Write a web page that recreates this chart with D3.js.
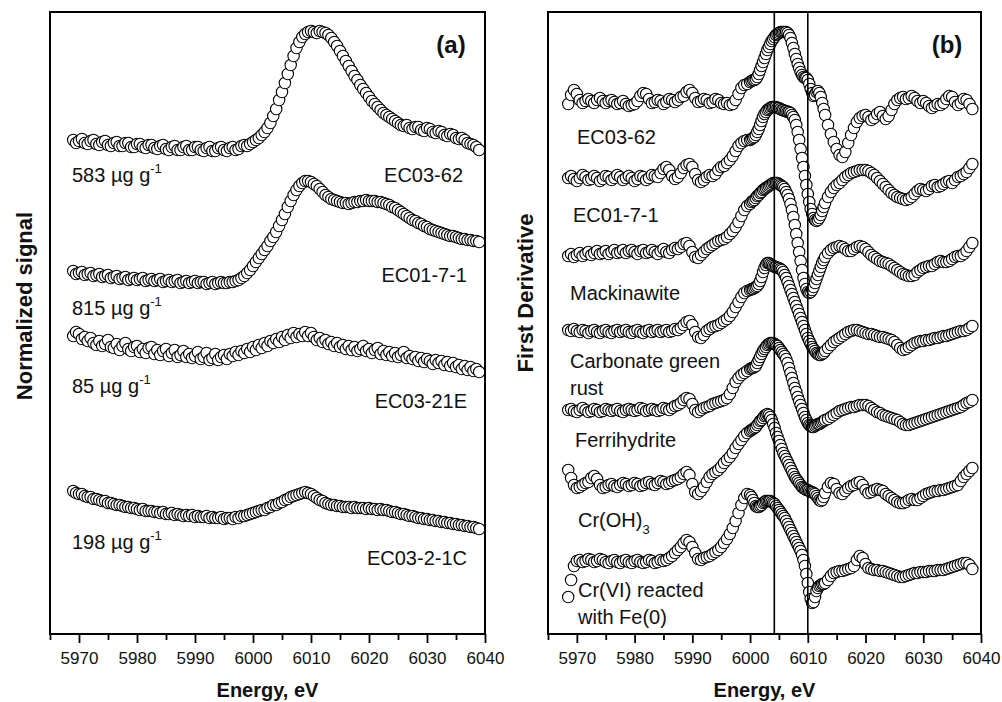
<!DOCTYPE html>
<html>
<head>
<meta charset="utf-8">
<script src="https://cdn.jsdelivr.net/npm/d3@7"></script>
<style>
  body { margin: 0; background: #fff; }
  text { font-family: "Liberation Sans", Arial, sans-serif; fill: #111; }
</style>
</head>
<body>
<script>
// ---- data (a): normalized signal, arbitrary units with offsets ----
const energyA = [
5969,5969.5,5970,5970.5,5971,5971.5,5972,5972.5,5973,5973.5,
5974,5974.5,5975,5975.5,5976,5976.5,5977,5977.5,5978,5978.5,
5979,5979.5,5980,5980.5,5981,5981.5,5982,5982.5,5983,5983.5,
5984,5984.5,5985,5985.5,5986,5986.5,5987,5987.5,5988,5988.5,
5989,5989.5,5990,5990.5,5991,5991.5,5992,5992.5,5993,5993.5,
5994,5994.5,5995,5995.5,5996,5996.5,5997,5997.5,5998,5998.5,
5999,5999.5,6000,6000.5,6001,6001.5,6002,6002.5,6003,6003.5,
6004,6004.5,6005,6005.5,6006,6006.5,6007,6007.5,6008,6008.5,
6009,6009.5,6010,6010.5,6011,6011.5,6012,6012.5,6013,6013.5,
6014,6014.5,6015,6015.5,6016,6016.5,6017,6017.5,6018,6018.5,
6019,6019.5,6020,6020.5,6021,6021.5,6022,6022.5,6023,6023.5,
6024,6024.5,6025,6025.5,6026,6026.5,6027,6027.5,6028,6028.5,
6029,6029.5,6030,6030.5,6031,6031.5,6032,6032.5,6033,6033.5,
6034,6034.5,6035,6035.5,6036,6036.5,6037,6037.5,6038,6038.5,
6039];

const ec0362A = [
4.94,4.91,4.93,4.95,4.91,4.90,4.93,4.94,4.90,4.89,
4.92,4.93,4.89,4.88,4.91,4.92,4.88,4.88,4.91,4.91,
4.87,4.87,4.90,4.90,4.87,4.86,4.89,4.89,4.86,4.85,
4.88,4.89,4.85,4.84,4.87,4.88,4.84,4.84,4.87,4.88,
4.84,4.84,4.87,4.87,4.84,4.83,4.86,4.87,4.83,4.83,
4.86,4.87,4.84,4.83,4.86,4.87,4.84,4.85,4.88,4.89,
4.88,4.90,4.92,4.94,4.96,4.99,5.02,5.06,5.11,5.18,
5.25,5.34,5.42,5.51,5.60,5.69,5.78,5.86,5.92,5.97,
6.00,6.02,6.03,6.02,6.01,6.03,6.02,6.01,5.99,5.96,
5.92,5.88,5.83,5.78,5.73,5.68,5.63,5.58,5.54,5.49,
5.45,5.41,5.37,5.33,5.30,5.27,5.24,5.21,5.19,5.17,
5.15,5.13,5.11,5.09,5.08,5.09,5.06,5.05,5.07,5.07,
5.04,5.03,5.06,5.05,5.02,5.01,5.03,5.02,4.99,4.98,
5.00,4.99,4.96,4.95,4.96,4.94,4.91,4.90,4.89,4.87,
4.84];

const ec0171A = [
3.63,3.60,3.61,3.62,3.59,3.60,3.61,3.58,3.59,3.60,
3.57,3.58,3.59,3.56,3.57,3.58,3.55,3.56,3.57,3.54,
3.55,3.56,3.54,3.55,3.56,3.53,3.54,3.55,3.53,3.54,
3.55,3.52,3.53,3.54,3.52,3.53,3.54,3.51,3.52,3.53,
3.51,3.52,3.53,3.51,3.52,3.52,3.50,3.51,3.52,3.50,
3.51,3.52,3.51,3.51,3.52,3.52,3.53,3.54,3.56,3.58,
3.61,3.64,3.68,3.72,3.76,3.80,3.84,3.88,3.93,3.97,
4.02,4.08,4.14,4.20,4.27,4.33,4.39,4.44,4.48,4.51,
4.53,4.53,4.52,4.50,4.48,4.45,4.42,4.39,4.37,4.35,
4.34,4.33,4.32,4.31,4.31,4.30,4.31,4.32,4.32,4.33,
4.33,4.34,4.33,4.33,4.33,4.32,4.32,4.31,4.30,4.29,
4.27,4.26,4.24,4.22,4.20,4.18,4.16,4.14,4.13,4.11,
4.10,4.08,4.07,4.05,4.04,4.03,4.02,4.01,4.00,3.99,
3.98,3.98,3.97,3.96,3.95,3.95,3.94,3.94,3.93,3.93,
3.92];

const ec0321eA = [
2.98,3.02,3.00,2.95,2.97,2.93,2.96,2.91,2.89,2.93,
2.88,2.90,2.94,2.87,2.86,2.90,2.84,2.88,2.91,2.85,
2.83,2.87,2.88,2.82,2.85,2.81,2.86,2.87,2.80,2.84,
2.79,2.83,2.85,2.78,2.81,2.84,2.77,2.79,2.83,2.77,
2.80,2.76,2.78,2.82,2.75,2.77,2.81,2.74,2.76,2.80,
2.74,2.77,2.79,2.75,2.80,2.78,2.82,2.79,2.83,2.81,
2.85,2.82,2.87,2.84,2.89,2.86,2.91,2.88,2.93,2.91,
2.95,2.92,2.97,2.94,2.99,2.96,3.01,2.97,3.00,2.98,
3.02,2.98,3.01,2.97,2.94,2.96,2.92,2.94,2.90,2.92,
2.88,2.91,2.87,2.89,2.85,2.88,2.84,2.87,2.83,2.85,
2.88,2.83,2.85,2.81,2.84,2.86,2.80,2.83,2.79,2.82,
2.78,2.81,2.77,2.79,2.82,2.76,2.78,2.75,2.77,2.73,
2.76,2.72,2.75,2.73,2.70,2.74,2.71,2.73,2.69,2.72,
2.68,2.71,2.67,2.69,2.65,2.68,2.64,2.67,2.63,2.65,
2.62];

const ec0221cA = [
1.43,1.41,1.40,1.40,1.38,1.37,1.37,1.35,1.35,1.34,
1.33,1.33,1.31,1.31,1.30,1.29,1.29,1.28,1.27,1.27,
1.26,1.26,1.25,1.24,1.25,1.23,1.23,1.23,1.22,1.22,
1.21,1.22,1.20,1.20,1.21,1.19,1.20,1.19,1.18,1.19,
1.18,1.19,1.17,1.18,1.17,1.17,1.18,1.16,1.17,1.16,
1.16,1.17,1.15,1.16,1.16,1.15,1.17,1.16,1.18,1.18,
1.19,1.20,1.21,1.22,1.23,1.24,1.24,1.26,1.27,1.29,
1.29,1.31,1.32,1.34,1.35,1.37,1.38,1.39,1.40,1.41,
1.42,1.41,1.40,1.38,1.36,1.34,1.33,1.31,1.30,1.29,
1.29,1.28,1.28,1.27,1.27,1.27,1.26,1.27,1.26,1.26,
1.26,1.25,1.26,1.25,1.25,1.24,1.25,1.24,1.24,1.23,
1.22,1.22,1.21,1.20,1.20,1.19,1.18,1.18,1.17,1.16,
1.16,1.15,1.15,1.14,1.14,1.13,1.13,1.12,1.12,1.11,
1.11,1.10,1.10,1.09,1.09,1.08,1.08,1.07,1.07,1.06,
1.05];

// ---- data (b): first derivative, arbitrary units with offsets ----
const energyB = [
5968.5,5969,5969.5,5970,5970.5,5971,5971.5,5972,
5972.5,5973,5973.5,5974,5974.5,5975,5975.5,5976,
5976.5,5977,5977.5,5978,5978.5,5979,5979.5,5980,
5980.5,5981,5981.5,5982,5982.5,5983,5983.5,5984,
5984.5,5985,5985.5,5986,5986.5,5987,5987.5,5988,
5988.5,5989,5989.5,5990,5990.5,5991,5991.5,5992,
5992.5,5993,5993.5,5994,5994.5,5995,5995.5,5996,
5996.5,5997,5997.5,5998,5998.5,5999,5999.5,6000,
6000.25,6000.5,6000.75,6001,6001.25,6001.5,6001.75,6002,
6002.25,6002.5,6002.75,6003,6003.25,6003.5,6003.75,6004,
6004.25,6004.5,6004.75,6005,6005.25,6005.5,6005.75,6006,
6006.25,6006.5,6006.75,6007,6007.25,6007.5,6007.75,6008,
6008.25,6008.5,6008.75,6009,6009.25,6009.5,6009.75,6010,
6010.25,6010.5,6010.75,6011,6011.25,6011.5,6011.75,6012,
6012.25,6012.5,6012.75,6013,
6013.5,6014,6014.5,6015,6015.5,6016,6016.5,6017,6017.5,6018,
6018.5,6019,6019.5,6020,6020.5,6021,6021.5,6022,6022.5,6023,
6023.5,6024,6024.5,6025,6025.5,6026,6026.5,6027,6027.5,6028,
6028.5,6029,6029.5,6030,6030.5,6031,6031.5,6032,6032.5,6033,
6033.5,6034,6034.5,6035,6035.5,6036,6036.5,6037,6037.5,6038,
6038.5];

const ec0362B = [
5.30,5.39,5.44,5.40,5.34,5.31,5.33,5.35,
5.33,5.31,5.34,5.36,5.33,5.31,5.33,5.34,
5.32,5.30,5.31,5.33,5.30,5.28,5.29,5.30,
5.33,5.38,5.41,5.40,5.35,5.31,5.32,5.34,
5.33,5.30,5.32,5.35,5.34,5.32,5.34,5.37,
5.38,5.42,5.44,5.41,5.36,5.32,5.33,5.35,
5.34,5.31,5.32,5.35,5.34,5.31,5.30,5.31,
5.29,5.30,5.34,5.40,5.46,5.49,5.50,5.52,
5.53,5.54,5.54,5.55,5.57,5.60,5.64,5.68,
5.72,5.76,5.80,5.84,5.87,5.90,5.93,5.95,
5.97,5.99,6.00,6.01,6.02,6.02,6.02,6.02,
6.02,6.01,5.99,5.96,5.91,5.86,5.80,5.75,
5.70,5.66,5.62,5.59,5.57,5.56,5.56,5.54,
5.50,5.45,5.41,5.38,5.39,5.42,5.43,5.41,
5.37,5.31,5.25,5.19,
5.09,5.00,4.92,4.85,4.79,4.77,4.82,4.91,4.99,5.06,
5.12,5.16,5.18,5.19,5.17,5.14,5.16,5.20,5.22,5.18,
5.15,5.18,5.24,5.30,5.34,5.36,5.37,5.35,5.36,5.38,
5.36,5.33,5.31,5.33,5.31,5.28,5.26,5.28,5.30,5.29,
5.31,5.35,5.38,5.37,5.32,5.29,5.31,5.35,5.34,5.30,
5.25];

const ec0171B = [
4.56,4.58,4.55,4.53,4.56,4.59,4.57,4.54,
4.55,4.58,4.56,4.53,4.55,4.58,4.57,4.54,
4.56,4.59,4.57,4.54,4.56,4.58,4.56,4.53,
4.55,4.58,4.57,4.54,4.56,4.59,4.58,4.57,
4.61,4.65,4.67,4.64,4.58,4.55,4.57,4.61,
4.66,4.69,4.70,4.67,4.60,4.54,4.52,4.54,
4.57,4.59,4.58,4.60,4.64,4.67,4.68,4.71,
4.74,4.78,4.83,4.88,4.91,4.93,4.94,4.94,
4.95,4.96,4.97,4.99,5.02,5.05,5.09,5.13,
5.17,5.20,5.22,5.24,5.25,5.26,5.27,5.27,
5.27,5.27,5.26,5.26,5.25,5.24,5.24,5.23,
5.23,5.22,5.22,5.21,5.19,5.17,5.14,5.09,
5.02,4.94,4.85,4.76,4.67,4.58,4.49,4.40,
4.32,4.25,4.20,4.16,4.14,4.13,4.14,4.16,
4.19,4.23,4.27,4.31,
4.37,4.42,4.46,4.49,4.51,4.54,4.57,4.59,4.61,4.62,
4.63,4.64,4.64,4.64,4.63,4.61,4.59,4.56,4.53,4.50,
4.47,4.44,4.41,4.39,4.37,4.36,4.35,4.34,4.35,4.37,
4.40,4.43,4.45,4.44,4.43,4.45,4.48,4.49,4.47,4.48,
4.50,4.52,4.53,4.51,4.54,4.57,4.58,4.60,4.62,4.66,
4.70];

const mackinawite = [
3.78,3.80,3.77,3.79,3.81,3.78,3.80,3.82,
3.79,3.81,3.83,3.80,3.81,3.83,3.80,3.82,
3.84,3.81,3.82,3.84,3.81,3.83,3.84,3.82,
3.80,3.83,3.84,3.81,3.82,3.84,3.82,3.80,
3.83,3.85,3.82,3.81,3.84,3.86,3.85,3.87,
3.90,3.91,3.88,3.82,3.77,3.76,3.79,3.82,
3.85,3.87,3.89,3.91,3.93,3.94,3.95,3.97,
4.00,4.03,4.07,4.12,4.18,4.24,4.28,4.30,
4.32,4.33,4.34,4.36,4.38,4.39,4.41,4.42,
4.44,4.45,4.46,4.47,4.48,4.49,4.50,4.51,
4.51,4.51,4.51,4.50,4.49,4.48,4.47,4.45,
4.42,4.39,4.35,4.30,4.24,4.17,4.09,4.00,
3.91,3.82,3.73,3.64,3.56,3.50,3.45,3.42,
3.41,3.42,3.44,3.47,3.51,3.55,3.59,3.63,
3.67,3.71,3.74,3.77,
3.81,3.84,3.86,3.87,3.88,3.87,3.85,3.83,3.83,3.85,
3.87,3.88,3.87,3.85,3.82,3.79,3.77,3.75,3.73,3.72,
3.71,3.70,3.68,3.66,3.64,3.62,3.60,3.59,3.58,3.58,
3.59,3.62,3.64,3.66,3.67,3.68,3.68,3.70,3.72,3.73,
3.72,3.72,3.73,3.75,3.77,3.78,3.78,3.80,3.83,3.87,
3.91];

const greenRust = [
3.04,3.03,3.05,3.03,3.02,3.04,3.03,3.01,
3.03,3.04,3.02,3.01,3.03,3.04,3.02,3.01,
3.03,3.04,3.02,3.03,3.04,3.02,3.01,3.03,
3.04,3.02,3.01,3.03,3.04,3.02,3.03,3.04,
3.02,3.03,3.04,3.02,3.03,3.05,3.04,3.06,
3.09,3.12,3.13,3.09,3.02,2.97,2.96,2.99,
3.03,3.05,3.07,3.08,3.09,3.11,3.13,3.15,
3.18,3.22,3.27,3.32,3.37,3.41,3.43,3.44,
3.45,3.45,3.46,3.47,3.48,3.50,3.53,3.57,
3.62,3.66,3.69,3.71,3.71,3.70,3.69,3.68,
3.67,3.67,3.66,3.66,3.65,3.64,3.62,3.59,
3.56,3.52,3.48,3.44,3.40,3.36,3.32,3.28,
3.24,3.20,3.16,3.12,3.08,3.04,3.00,2.96,
2.93,2.90,2.87,2.85,2.83,2.81,2.80,2.79,
2.79,2.80,2.81,2.83,
2.86,2.89,2.92,2.94,2.96,2.98,3.00,3.02,3.03,3.04,
3.04,3.03,3.02,3.01,3.00,3.00,2.99,2.98,2.97,2.97,
2.96,2.95,2.94,2.92,2.89,2.86,2.84,2.85,2.87,2.89,
2.91,2.92,2.93,2.93,2.94,2.94,2.95,2.96,2.96,2.97,
2.98,2.98,2.99,3.00,3.01,3.02,3.03,3.03,3.04,3.06,
3.08];

const ferrihydrite = [
2.24,2.25,2.23,2.22,2.24,2.26,2.24,2.22,
2.23,2.25,2.24,2.22,2.23,2.25,2.24,2.23,
2.24,2.25,2.23,2.22,2.24,2.25,2.24,2.23,
2.24,2.26,2.25,2.23,2.24,2.25,2.24,2.23,
2.24,2.26,2.25,2.24,2.26,2.28,2.29,2.31,
2.34,2.36,2.35,2.30,2.24,2.22,2.24,2.26,
2.27,2.28,2.30,2.31,2.32,2.33,2.34,2.36,
2.40,2.46,2.52,2.56,2.59,2.61,2.63,2.65,
2.66,2.66,2.67,2.68,2.71,2.74,2.77,2.80,
2.83,2.85,2.87,2.89,2.90,2.91,2.91,2.91,
2.90,2.89,2.88,2.86,2.84,2.82,2.80,2.78,
2.75,2.71,2.66,2.61,2.56,2.51,2.46,2.42,
2.37,2.33,2.29,2.25,2.21,2.17,2.14,2.11,
2.09,2.08,2.07,2.07,2.08,2.09,2.10,2.10,
2.11,2.12,2.13,2.14,
2.15,2.17,2.19,2.21,2.23,2.24,2.25,2.26,2.27,2.27,
2.28,2.29,2.29,2.29,2.28,2.26,2.24,2.22,2.21,2.19,
2.18,2.17,2.16,2.15,2.14,2.12,2.10,2.09,2.09,2.10,
2.11,2.12,2.13,2.14,2.15,2.16,2.17,2.18,2.19,2.20,
2.21,2.22,2.23,2.24,2.25,2.26,2.27,2.29,2.31,2.32,
2.34];

const crOH3 = [
1.64,1.56,1.49,1.46,1.47,1.49,1.51,1.52,
1.56,1.58,1.55,1.49,1.46,1.47,1.49,1.50,
1.48,1.47,1.49,1.51,1.50,1.48,1.49,1.51,
1.50,1.48,1.49,1.51,1.52,1.50,1.49,1.51,
1.53,1.52,1.50,1.51,1.53,1.54,1.55,1.57,
1.60,1.62,1.59,1.50,1.42,1.40,1.43,1.47,
1.52,1.57,1.60,1.62,1.64,1.67,1.71,1.74,
1.77,1.81,1.86,1.90,1.94,1.98,2.01,2.03,
2.04,2.05,2.06,2.07,2.09,2.11,2.13,2.14,
2.16,2.18,2.19,2.20,2.19,2.17,2.14,2.10,
2.06,2.01,1.97,1.93,1.89,1.85,1.81,1.78,
1.75,1.72,1.69,1.66,1.63,1.60,1.57,1.55,
1.53,1.51,1.49,1.47,1.46,1.45,1.44,1.44,
1.43,1.42,1.42,1.41,1.40,1.38,1.36,1.34,
1.33,1.34,1.37,1.41,
1.47,1.51,1.50,1.45,1.41,1.40,1.43,1.46,1.48,1.49,
1.51,1.52,1.49,1.44,1.41,1.42,1.44,1.45,1.44,1.43,
1.40,1.38,1.36,1.34,1.32,1.31,1.31,1.32,1.34,1.35,
1.34,1.34,1.36,1.38,1.40,1.41,1.42,1.43,1.43,1.44,
1.44,1.45,1.46,1.47,1.48,1.49,1.53,1.57,1.60,1.63,
1.66];

const crVIFe0 = [
0.37,0.54,0.68,0.73,0.74,0.72,0.73,0.75,
0.74,0.72,0.73,0.75,0.74,0.72,0.71,0.73,
0.74,0.72,0.71,0.73,0.74,0.72,0.71,0.73,
0.74,0.72,0.71,0.72,0.74,0.73,0.71,0.72,
0.74,0.73,0.74,0.76,0.78,0.81,0.84,0.87,
0.91,0.94,0.92,0.87,0.81,0.75,0.74,0.76,
0.77,0.78,0.80,0.82,0.84,0.87,0.91,0.95,
1.00,1.06,1.13,1.21,1.29,1.36,1.40,1.39,
1.37,1.34,1.31,1.28,1.27,1.27,1.28,1.29,
1.31,1.32,1.33,1.33,1.33,1.33,1.32,1.31,
1.30,1.28,1.26,1.24,1.22,1.20,1.18,1.16,
1.13,1.10,1.07,1.04,1.01,0.98,0.95,0.92,
0.89,0.86,0.83,0.79,0.74,0.68,0.60,0.51,
0.42,0.35,0.31,0.32,0.37,0.43,0.46,0.48,
0.49,0.50,0.50,0.51,
0.54,0.58,0.61,0.62,0.63,0.63,0.64,0.65,0.66,0.68,
0.74,0.78,0.76,0.70,0.66,0.65,0.64,0.64,0.63,0.63,
0.62,0.61,0.60,0.59,0.58,0.57,0.57,0.58,0.59,0.60,
0.61,0.61,0.62,0.62,0.62,0.63,0.63,0.63,0.64,0.64,
0.64,0.65,0.66,0.67,0.68,0.69,0.70,0.71,0.71,0.69,
0.65];

const majorTicks = [5970,5980,5990,6000,6010,6020,6030,6040];
const minorTicks = [5965,5975,5985,5995,6005,6015,6025,6035];
const refLinesB = [6004.2, 6010];

// label text, left/right in panel (a)
const concA = ["583", "815", "85", "198"];
const namesA = ["EC03-62", "EC01-7-1", "EC03-21E", "EC03-2-1C"];
const namesB = ["EC03-62", "EC01-7-1", "Mackinawite", "Carbonate green|rust", "Ferrihydrite", "Cr(OH)3", "Cr(VI) reacted|with Fe(0)"];

// ---- layout ----
const W = 1002, H = 702;
const plotTop = 12, plotBottom = 634;
const svg = d3.select("body").append("svg").attr("width", W).attr("height", H);

const panels = [
  { left: 50, right: 485, energy: energyA,
    series: [ec0362A, ec0171A, ec0321eA, ec0221cA], tag: "(a)", tagX: 451,
    ytitle: "Normalized signal", ytx: 32, yty: 306, refs: [] },
  { left: 548, right: 981, energy: energyB,
    series: [ec0362B, ec0171B, mackinawite, greenRust, ferrihydrite, crOH3, crVIFe0], tag: "(b)", tagX: 947,
    ytitle: "First Derivative", ytx: 533, yty: 293, refs: refLinesB }
];

panels.forEach(function(p){
  const x = d3.scaleLinear().domain([5965, 6040]).range([p.left, p.right]);
  const y = d3.scaleLinear().domain([0, 6.22]).range([plotBottom, plotTop]);
  const g = svg.append("g");

  p.series.forEach(function(s){
    const pts = p.energy.map((e,i) => ({e: e, v: s[i]})).filter(d => d.v != null);
    g.append("g").selectAll("circle").data(pts).join("circle")
      .attr("cx", d => x(d.e))
      .attr("cy", d => y(d.v))
      .attr("r", 5.7)
      .attr("fill", "#fff")
      .attr("stroke", "#000")
      .attr("stroke-width", 1.1);
  });

  g.selectAll("line.ref").data(p.refs).join("line")
    .attr("class", "ref")
    .attr("x1", d => x(d)).attr("x2", d => x(d))
    .attr("y1", plotTop).attr("y2", plotBottom)
    .attr("stroke", "#000").attr("stroke-width", 1.6);

  g.append("rect")
    .attr("x", p.left).attr("y", plotTop)
    .attr("width", p.right - p.left).attr("height", plotBottom - plotTop)
    .attr("fill", "none").attr("stroke", "#000").attr("stroke-width", 2);

  const ax = g.append("g").attr("transform", "translate(0," + plotBottom + ")")
    .call(d3.axisBottom(x).tickValues(majorTicks).tickSize(9).tickFormat(d3.format("d")));
  ax.select(".domain").remove();
  ax.selectAll(".tick line").attr("stroke", "#000").attr("stroke-width", 1.8);
  ax.selectAll(".tick text")
    .attr("y", 30).attr("dy", 0)
    .attr("font-size", 17)
    .attr("font-family", "Liberation Sans, Arial, sans-serif")
    .attr("fill", "#111");

  const axm = g.append("g").attr("transform", "translate(0," + plotBottom + ")")
    .call(d3.axisBottom(x).tickValues(minorTicks).tickSize(6).tickFormat(""));
  axm.select(".domain").remove();
  axm.selectAll(".tick line").attr("stroke", "#000").attr("stroke-width", 1.8);

  svg.append("text")
    .attr("x", (p.left + p.right) / 2).attr("y", 697)
    .attr("text-anchor", "middle")
    .attr("font-size", 20).attr("font-weight", "bold")
    .text("Energy, eV");

  svg.append("text")
    .attr("transform", "translate(" + p.ytx + "," + p.yty + ") rotate(-90)")
    .attr("text-anchor", "middle")
    .attr("font-size", 22).attr("font-weight", "bold")
    .text(p.ytitle);

  svg.append("text")
    .attr("x", p.tagX).attr("y", 53)
    .attr("text-anchor", "middle")
    .attr("font-size", 24).attr("font-weight", "bold")
    .text(p.tag);
});

// ---- curve labels, panel (a) ----
const concPosA = [[72, 182], [72, 315], [72, 393], [72, 549]];
const namePosA = [[463, 182], [467, 282], [467, 408], [467, 565]];
concA.forEach(function(c, i){
  const t = svg.append("text")
    .attr("x", concPosA[i][0]).attr("y", concPosA[i][1])
    .attr("font-size", 20);
  t.append("tspan").text(c + " \u00b5g g");
  t.append("tspan").attr("dy", -9).attr("font-size", 13).text("-1");
});
namesA.forEach(function(n, i){
  svg.append("text")
    .attr("x", namePosA[i][0]).attr("y", namePosA[i][1])
    .attr("text-anchor", "end")
    .attr("font-size", 20)
    .text(n);
});

// ---- curve labels, panel (b) ----
const namePosB = [[577, 144], [573, 222], [570, 300], [570, 368], [575, 447], [578, 527], [578, 597]];
namesB.forEach(function(n, i){
  const lines = n.split("|");
  lines.forEach(function(line, j){
    const t = svg.append("text")
      .attr("x", namePosB[i][0]).attr("y", namePosB[i][1] + j * 27)
      .attr("font-size", 20);
    if (line === "Cr(OH)3") {
      t.append("tspan").text("Cr(OH)");
      t.append("tspan").attr("dy", 7).attr("font-size", 13).text("3");
    } else {
      t.text(line);
    }
  });
});
</script>
</body>
</html>
